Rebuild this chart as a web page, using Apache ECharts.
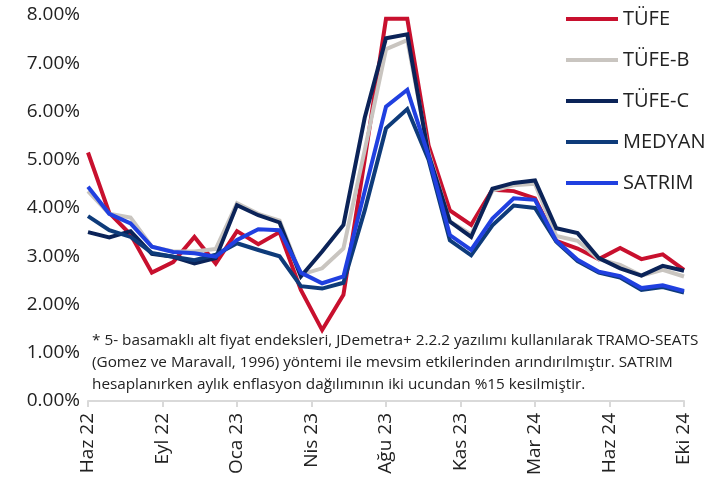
<!DOCTYPE html>
<html>
<head>
<meta charset="utf-8">
<script src="https://cdn.jsdelivr.net/npm/echarts@6/dist/echarts.min.js"></script>
<style>
html,body{margin:0;padding:0;background:#fff;}
#chart{width:706px;height:483px;}
</style>
</head>
<body>
<div id="chart"></div>
<script>
// Months (Haz 22 .. Eki 24)
const months = ['Haz 22','Tem 22','Ağu 22','Eyl 22','Eki 22','Kas 22','Ara 22','Oca 23','Şub 23','Mar 23','Nis 23','May 23','Haz 23','Tem 23','Ağu 23','Eyl 23','Eki 23','Kas 23','Ara 23','Oca 24','Şub 24','Mar 24','Nis 24','May 24','Haz 24','Tem 24','Ağu 24','Eyl 24','Eki 24'];
const tickLabels = ['Haz 22','Eyl 22','Oca 23','Nis 23','Ağu 23','Kas 23','Mar 24','Haz 24','Eki 24'];
const yTicks = [0,1,2,3,4,5,6,7,8];

const TUFE   = [5.15,3.90,3.45,2.66,2.88,3.40,2.85,3.52,3.25,3.50,2.30,1.47,2.20,5.00,7.92,7.92,5.30,3.95,3.65,4.38,4.35,4.20,3.32,3.16,2.94,3.17,2.94,3.04,2.72];
const TUFE_B = [4.35,3.88,3.80,3.20,3.10,3.10,3.15,4.10,3.88,3.74,2.62,2.75,3.16,5.20,7.29,7.48,5.15,3.72,3.45,4.36,4.47,4.50,3.42,3.32,2.94,2.82,2.60,2.72,2.58];
const TUFE_C = [3.50,3.39,3.52,3.05,2.99,2.85,2.96,4.06,3.85,3.70,2.58,3.10,3.65,5.87,7.52,7.60,5.10,3.72,3.40,4.40,4.52,4.57,3.58,3.48,2.96,2.75,2.60,2.80,2.70];
const MEDYAN = [3.83,3.54,3.40,3.07,2.99,2.92,3.03,3.27,3.13,3.00,2.38,2.33,2.45,3.95,5.65,6.05,5.00,3.33,3.02,3.64,4.05,4.00,3.30,2.90,2.66,2.56,2.30,2.36,2.25];
const SATRIM = [4.44,3.88,3.68,3.20,3.09,3.06,2.99,3.34,3.56,3.54,2.66,2.44,2.58,4.35,6.10,6.45,5.08,3.44,3.13,3.78,4.20,4.17,3.32,2.93,2.68,2.59,2.34,2.40,2.28];

const seriesNames = ['TÜFE','TÜFE-B','TÜFE-C','MEDYAN','SATRIM'];
const seriesValues = [TUFE, TUFE_B, TUFE_C, MEDYAN, SATRIM];
const colors = ['#C8102E','#C9C5C0','#0B2358','#0E3B7A','#2040E0'];

const noteText = '* 5- basamaklı alt fiyat endeksleri, JDemetra+ 2.2.2 yazılımı kullanılarak TRAMO-SEATS\n(Gomez ve Maravall, 1996) yöntemi ile mevsim etkilerinden arındırılmıştır. SATRIM\nhesaplanırken aylık enflasyon dağılımının iki ucundan %15 kesilmiştir.';

const FONT = '"Open Sans", "Noto Sans", sans-serif';
const chart = echarts.init(document.getElementById('chart'));
const tickStep = (months.length - 1) / (tickLabels.length - 1);

chart.setOption({
  animation: false,
  color: colors,
  textStyle: { fontFamily: FONT },
  grid: { left: 88, right: 22, top: 15, bottom: 82, containLabel: false },
  legend: {
    orient: 'vertical',
    left: 561, top: 4,
    icon: 'rect',
    itemWidth: 52, itemHeight: 4,
    itemGap: 21,
    textStyle: { fontSize: 20, color: '#222', fontFamily: FONT },
    data: seriesNames
  },
  xAxis: {
    type: 'value',
    min: 0, max: months.length - 1, interval: tickStep,
    axisLine: { show: true, lineStyle: { color: '#D9D9D9', width: 2 } },
    axisTick: { show: true, length: 6, lineStyle: { color: '#D9D9D9', width: 2 } },
    splitLine: { show: false },
    axisLabel: {
      rotate: 90, margin: 12, fontSize: 19, color: '#222', fontFamily: FONT,
      showMinLabel: true, showMaxLabel: true,
      formatter: v => tickLabels[Math.round(v / tickStep)]
    }
  },
  yAxis: {
    type: 'value',
    min: yTicks[0], max: yTicks[yTicks.length-1], interval: 1,
    axisLine: { show: false }, axisTick: { show: false },
    splitLine: { show: false },
    axisLabel: { fontSize: 19, color: '#222', margin: 8, fontFamily: FONT,
      formatter: v => v.toFixed(2) + '%' }
  },
  graphic: [{
    type: 'text', left: 92, top: 330, z: 10,
    style: { text: noteText, font: '15.3px ' + FONT, fill: '#222', lineHeight: 22 }
  }],
  series: seriesNames.map((n, k) => ({
    name: n, type: 'line',
    data: seriesValues[k].map((v, i) => [i, v]),
    showSymbol: false, symbol: 'none',
    lineStyle: { width: 4, color: colors[k], join: 'miter' },
    itemStyle: { color: colors[k] }
  }))
});
</script>
</body>
</html>
